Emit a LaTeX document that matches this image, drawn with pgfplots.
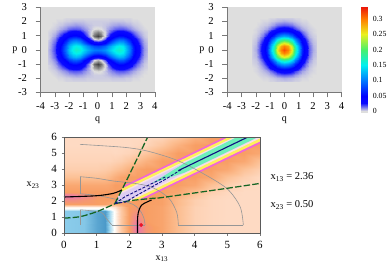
\documentclass[border=0pt]{standalone}
\usepackage{fontspec}
\setmainfont{Liberation Serif}
\usepackage{pgfplots}
\pgfplotsset{compat=1.18}
\definecolor{axg}{RGB}{120,120,120}
\definecolor{gline}{RGB}{150,150,150}
\definecolor{dgreen}{RGB}{20,100,35}
\definecolor{navy2}{RGB}{15,15,130}
\pgfplotsset{
  wigcm/.style={colormap={wig}{
    rgb255(0pt)=(55,55,55);
    rgb255(15pt)=(222,222,222);
    rgb255(40pt)=(10,10,255);
    rgb255(65pt)=(0,0,255);
    rgb255(115pt)=(0,125,255);
    rgb255(165pt)=(0,240,240);
    rgb255(215pt)=(70,240,110);
    rgb255(265pt)=(235,240,30);
    rgb255(315pt)=(255,125,0);
    rgb255(355pt)=(235,20,10)},
    point meta min=-0.015, point meta max=0.34},
  wigaxis/.style={wigcm, scale only axis, width=114.3pt, height=85pt,
    xmin=-4,xmax=4,ymin=-3,ymax=3,
    xtick={-4,...,4}, ytick={-3,...,3},
    axis x line*=bottom, axis y line*=left,
    axis line style={axg,-}, tick style={axg,thin},
    tick align=outside, major tick length=5pt,
    /pgf/number format/assume math mode=true,
    tick label style={font=\fontsize{10.6}{11}\selectfont},
    yticklabel style={xshift=-5pt},
    xticklabel style={yshift=-2pt},
    label style={font=\fontsize{10.6}{11}\selectfont},
    xlabel=q, ylabel=p,
    every axis x label/.style={at={(rel axis cs:0.5,0)},anchor=center,yshift=-28pt},
    every axis y label/.style={at={(rel axis cs:0,0.5)},anchor=center,xshift=-25.5pt},
    axis background/.style={fill={rgb,255:red,222;green,222;blue,222}}},
}
\begin{document}
\begin{tikzpicture}[x=1pt,y=1pt]
\path (0,0) rectangle (391,269);
%%% left Wigner
\begin{axis}[wigaxis, at={(40.5pt,176.7pt)}, anchor=south west]
\addplot[surf,shader=interp,mesh/cols=29,point meta=\thisrowno{0}] table[row sep=crcr,header=false,
 x expr={mod(\coordindex,29)*0.25-3.5}, y expr={floor(\coordindex/29)*0.25-2.25}] {
0\\0\\0\\0\\0\\.001\\.001\\.001\\.001\\.001\\.001\\.001\\.001\\.001\\.001\\.001\\.001\\.001\\.001\\.001\\.001\\.001\\.001\\.001\\0\\0\\0\\0\\0\\
0\\0\\0\\.001\\.001\\.002\\.002\\.003\\.003\\.003\\.003\\.002\\.002\\.002\\.002\\.002\\.002\\.002\\.003\\.003\\.003\\.003\\.002\\.002\\.001\\.001\\0\\0\\0\\
0\\0\\.001\\.002\\.003\\.005\\.006\\.007\\.008\\.007\\.006\\.004\\.003\\.002\\.002\\.002\\.003\\.004\\.006\\.007\\.008\\.007\\.006\\.005\\.003\\.002\\.001\\0\\0\\
0\\.001\\.002\\.004\\.007\\.010\\.014\\.016\\.016\\.015\\.011\\.007\\.003\\0\\-.001\\0\\.003\\.007\\.011\\.015\\.016\\.016\\.014\\.010\\.007\\.004\\.002\\.001\\0\\
.001\\.002\\.004\\.008\\.014\\.020\\.027\\.031\\.032\\.028\\.020\\.010\\.001\\-.005\\-.008\\-.005\\.001\\.010\\.020\\.028\\.032\\.031\\.027\\.020\\.014\\.008\\.004\\.002\\.001\\
.001\\.003\\.007\\.014\\.024\\.036\\.047\\.055\\.056\\.048\\.034\\.017\\.001\\-.010\\-.014\\-.010\\.001\\.017\\.034\\.048\\.056\\.055\\.047\\.036\\.024\\.014\\.007\\.003\\.001\\
.002\\.005\\.011\\.022\\.037\\.055\\.074\\.086\\.088\\.079\\.060\\.037\\.016\\.001\\-.004\\.001\\.016\\.037\\.060\\.079\\.088\\.086\\.074\\.055\\.037\\.022\\.011\\.005\\.002\\
.003\\.007\\.015\\.029\\.050\\.076\\.101\\.120\\.125\\.115\\.095\\.071\\.050\\.036\\.032\\.036\\.050\\.071\\.095\\.115\\.125\\.120\\.101\\.076\\.050\\.029\\.015\\.007\\.003\\
.003\\.008\\.018\\.035\\.061\\.092\\.123\\.146\\.154\\.147\\.129\\.108\\.091\\.081\\.077\\.081\\.091\\.108\\.129\\.147\\.154\\.146\\.123\\.092\\.061\\.035\\.018\\.008\\.003\\
.004\\.009\\.019\\.038\\.065\\.098\\.131\\.156\\.166\\.160\\.144\\.125\\.110\\.101\\.099\\.101\\.110\\.125\\.144\\.160\\.166\\.156\\.131\\.098\\.065\\.038\\.019\\.009\\.004\\
.003\\.008\\.018\\.035\\.061\\.092\\.123\\.146\\.154\\.147\\.129\\.108\\.091\\.081\\.077\\.081\\.091\\.108\\.129\\.147\\.154\\.146\\.123\\.092\\.061\\.035\\.018\\.008\\.003\\
.003\\.007\\.015\\.029\\.050\\.076\\.101\\.120\\.125\\.115\\.095\\.071\\.050\\.036\\.032\\.036\\.050\\.071\\.095\\.115\\.125\\.120\\.101\\.076\\.050\\.029\\.015\\.007\\.003\\
.002\\.005\\.011\\.022\\.037\\.055\\.074\\.086\\.088\\.079\\.060\\.037\\.016\\.001\\-.004\\.001\\.016\\.037\\.060\\.079\\.088\\.086\\.074\\.055\\.037\\.022\\.011\\.005\\.002\\
.001\\.003\\.007\\.014\\.024\\.036\\.047\\.055\\.056\\.048\\.034\\.017\\.001\\-.010\\-.014\\-.010\\.001\\.017\\.034\\.048\\.056\\.055\\.047\\.036\\.024\\.014\\.007\\.003\\.001\\
.001\\.002\\.004\\.008\\.014\\.020\\.027\\.031\\.032\\.028\\.020\\.010\\.001\\-.005\\-.008\\-.005\\.001\\.010\\.020\\.028\\.032\\.031\\.027\\.020\\.014\\.008\\.004\\.002\\.001\\
0\\.001\\.002\\.004\\.007\\.010\\.014\\.016\\.016\\.015\\.011\\.007\\.003\\0\\-.001\\0\\.003\\.007\\.011\\.015\\.016\\.016\\.014\\.010\\.007\\.004\\.002\\.001\\0\\
0\\0\\.001\\.002\\.003\\.005\\.006\\.007\\.008\\.007\\.006\\.004\\.003\\.002\\.002\\.002\\.003\\.004\\.006\\.007\\.008\\.007\\.006\\.005\\.003\\.002\\.001\\0\\0\\
0\\0\\0\\.001\\.001\\.002\\.002\\.003\\.003\\.003\\.003\\.002\\.002\\.002\\.002\\.002\\.002\\.002\\.003\\.003\\.003\\.003\\.002\\.002\\.001\\.001\\0\\0\\0\\
0\\0\\0\\0\\0\\.001\\.001\\.001\\.001\\.001\\.001\\.001\\.001\\.001\\.001\\.001\\.001\\.001\\.001\\.001\\.001\\.001\\.001\\.001\\0\\0\\0\\0\\0\\
};
\end{axis}
%%% right Wigner
\begin{axis}[wigaxis, at={(227.3pt,176.7pt)}, anchor=south west]
\addplot[surf,shader=interp,mesh/cols=19,point meta=\thisrowno{0}] table[row sep=crcr,header=false,
 x expr={mod(\coordindex,19)*0.25-2.25}, y expr={floor(\coordindex/19)*0.25-2.25}] {
0\\0\\0\\0\\0\\.001\\.001\\.002\\.002\\.002\\.002\\.002\\.001\\.001\\0\\0\\0\\0\\0\\
0\\0\\0\\.001\\.001\\.002\\.003\\.004\\.005\\.006\\.005\\.004\\.003\\.002\\.001\\.001\\0\\0\\0\\
0\\0\\.001\\.002\\.003\\.005\\.008\\.012\\.014\\.015\\.014\\.012\\.008\\.005\\.003\\.002\\.001\\0\\0\\
0\\.001\\.002\\.004\\.007\\.012\\.019\\.026\\.031\\.033\\.031\\.026\\.019\\.012\\.007\\.004\\.002\\.001\\0\\
0\\.001\\.003\\.007\\.014\\.025\\.038\\.052\\.063\\.067\\.063\\.052\\.038\\.025\\.014\\.007\\.003\\.001\\0\\
.001\\.002\\.005\\.012\\.025\\.043\\.067\\.091\\.110\\.117\\.110\\.091\\.067\\.043\\.025\\.012\\.005\\.002\\.001\\
.001\\.003\\.008\\.019\\.038\\.067\\.103\\.141\\.170\\.181\\.170\\.141\\.103\\.067\\.038\\.019\\.008\\.003\\.001\\
.002\\.004\\.012\\.026\\.052\\.091\\.141\\.193\\.233\\.248\\.233\\.193\\.141\\.091\\.052\\.026\\.012\\.004\\.002\\
.002\\.005\\.014\\.031\\.063\\.110\\.170\\.233\\.281\\.299\\.281\\.233\\.170\\.110\\.063\\.031\\.014\\.005\\.002\\
.002\\.006\\.015\\.033\\.067\\.117\\.181\\.248\\.299\\.318\\.299\\.248\\.181\\.117\\.067\\.033\\.015\\.006\\.002\\
.002\\.005\\.014\\.031\\.063\\.110\\.170\\.233\\.281\\.299\\.281\\.233\\.170\\.110\\.063\\.031\\.014\\.005\\.002\\
.002\\.004\\.012\\.026\\.052\\.091\\.141\\.193\\.233\\.248\\.233\\.193\\.141\\.091\\.052\\.026\\.012\\.004\\.002\\
.001\\.003\\.008\\.019\\.038\\.067\\.103\\.141\\.170\\.181\\.170\\.141\\.103\\.067\\.038\\.019\\.008\\.003\\.001\\
.001\\.002\\.005\\.012\\.025\\.043\\.067\\.091\\.110\\.117\\.110\\.091\\.067\\.043\\.025\\.012\\.005\\.002\\.001\\
0\\.001\\.003\\.007\\.014\\.025\\.038\\.052\\.063\\.067\\.063\\.052\\.038\\.025\\.014\\.007\\.003\\.001\\0\\
0\\.001\\.002\\.004\\.007\\.012\\.019\\.026\\.031\\.033\\.031\\.026\\.019\\.012\\.007\\.004\\.002\\.001\\0\\
0\\0\\.001\\.002\\.003\\.005\\.008\\.012\\.014\\.015\\.014\\.012\\.008\\.005\\.003\\.002\\.001\\0\\0\\
0\\0\\0\\.001\\.001\\.002\\.003\\.004\\.005\\.006\\.005\\.004\\.003\\.002\\.001\\.001\\0\\0\\0\\
0\\0\\0\\0\\0\\.001\\.001\\.002\\.002\\.002\\.002\\.002\\.001\\.001\\0\\0\\0\\0\\0\\
};
\end{axis}
%%% colour bar
\begin{axis}[wigcm, scale only axis, width=6.3pt, height=105pt,
  at={(361pt,157pt)}, anchor=south west,
  xmin=0,xmax=1,ymin=-0.003,ymax=0.339, xtick=\empty,
  ytick={0,0.05,0.1,0.15,0.2,0.25,0.3},
  yticklabels={0,0.05,0.1,0.15,0.2,0.25,0.3},
  yticklabel pos=right, axis line style={draw=none}, ytick style={draw=none},
  tick label style={font=\fontsize{7.8}{8}\selectfont},
  yticklabel style={xshift=2pt}]
\addplot[surf,shader=interp,mesh/cols=2,point meta=\thisrowno{2}] table[row sep=crcr,header=false] {
0 -0.003 0\\1 -0.003 0\\0 0 0\\1 0 0\\0 0.025 0.025\\1 0.025 0.025\\0 0.05 0.05\\1 0.05 0.05\\
0 0.1 0.1\\1 0.1 0.1\\0 0.15 0.15\\1 0.15 0.15\\0 0.2 0.2\\1 0.2 0.2\\0 0.25 0.25\\1 0.25 0.25\\
0 0.3 0.3\\1 0.3 0.3\\0 0.339 0.339\\1 0.339 0.339\\
};
\end{axis}
%%% phase diagram
\begin{axis}[scale only axis, width=196pt, height=96pt,
  at={(64pt,36pt)}, anchor=south west,
  xmin=0,xmax=6,ymin=0,ymax=6, xtick={0,...,6}, ytick={0,...,6},
  point meta min=0, point meta max=6,
  colormap={bg}{rgb255(0pt)=(65,145,195); rgb255(1pt)=(140,205,235); rgb255(2pt)=(255,255,252);
    rgb255(3pt)=(254,218,195); rgb255(4pt)=(252,190,145); rgb255(5pt)=(248,158,100); rgb255(6pt)=(232,118,180)},
  axis on top, axis line style={draw={rgb,255:red,90;green,90;blue,90},line width=0.9pt},
  tick style={axg,thin}, tick align=outside, major tick length=2.5pt,
  xtick pos=bottom, ytick pos=left,
  /pgf/number format/assume math mode=true,
  tick label style={font=\fontsize{11}{11}\selectfont},
  xticklabel style={yshift=-2pt}, yticklabel style={xshift=-1pt},
  label style={font=\fontsize{10.6}{11}\selectfont},
  xlabel={x\textsubscript{13}}, ylabel={x\textsubscript{23}},
  every axis x label/.style={at={(rel axis cs:0.5,0)},anchor=center,yshift=-25.5pt},
  every axis y label/.style={at={(rel axis cs:0,0.5)},anchor=center,xshift=-31pt}]
\addplot[surf,shader=interp,mesh/cols=18,point meta=\thisrowno{2}] table[row sep=crcr,header=false] {
0 0 1\\.25 0 .95\\.6 0 .9\\1 0 .35\\1.25 0 .15\\1.42 0 1.3\\1.55 0 2.2\\1.75 0 3.6\\2 0 5\\2.25 0 5.9\\2.5 0 5.2\\3 0 4.8\\3.5 0 4\\4 0 3.3\\4.5 0 3.1\\5 0 3\\5.5 0 3\\6 0 3\\
0 .4 1\\.25 .4 .95\\.6 .4 .9\\1 .4 .35\\1.25 .4 .15\\1.42 .4 1.3\\1.55 .4 2.2\\1.75 .4 3.6\\2 .4 5\\2.25 .4 6\\2.5 .4 5.2\\3 .4 4.8\\3.5 .4 4\\4 .4 3.3\\4.5 .4 3.1\\5 .4 3\\5.5 .4 3\\6 .4 3\\
0 .8 1\\.25 .8 .95\\.6 .8 .9\\1 .8 .35\\1.25 .8 .15\\1.42 .8 1.3\\1.55 .8 2.2\\1.75 .8 3.6\\2 .8 5\\2.25 .8 5.7\\2.5 .8 5\\3 .8 4.8\\3.5 .8 4\\4 .8 3.3\\4.5 .8 3.1\\5 .8 3\\5.5 .8 3\\6 .8 3\\
0 1.4 1\\.25 1.4 .95\\.6 1.4 .9\\1 1.4 .35\\1.25 1.4 .2\\1.42 1.4 1.3\\1.55 1.4 2.2\\1.75 1.4 3.6\\2 1.4 5\\2.25 1.4 5.3\\2.5 1.4 5\\3 1.4 4.8\\3.5 1.4 4\\4 1.4 3.3\\4.5 1.4 3.1\\5 1.4 3\\5.5 1.4 3\\6 1.4 3\\
0 1.5 1.8\\.25 1.5 1.8\\.6 1.5 1.8\\1 1.5 1.8\\1.25 1.5 1.8\\1.42 1.5 2\\1.55 1.5 2.4\\1.75 1.5 3.7\\2 1.5 5\\2.25 1.5 5.2\\2.5 1.5 5\\3 1.5 4.8\\3.5 1.5 4\\4 1.5 3.3\\4.5 1.5 3.1\\5 1.5 3\\5.5 1.5 3\\6 1.5 3\\
0 1.6 2.3\\.25 1.6 2.3\\.6 1.6 2.3\\1 1.6 2.3\\1.25 1.6 2.3\\1.42 1.6 2.4\\1.55 1.6 2.8\\1.75 1.6 3.8\\2 1.6 5\\2.25 1.6 5.1\\2.5 1.6 5\\3 1.6 4.8\\3.5 1.6 4\\4 1.6 3.3\\4.5 1.6 3.1\\5 1.6 3\\5.5 1.6 3\\6 1.6 3\\
0 1.8 5\\.25 1.8 5\\.6 1.8 5\\1 1.8 5\\1.25 1.8 4.9\\1.42 1.8 4.7\\1.55 1.8 4.4\\1.75 1.8 4.6\\2 1.8 5\\2.25 1.8 5\\2.5 1.8 5\\3 1.8 4.9\\3.5 1.8 4.1\\4 1.8 3.4\\4.5 1.8 3.1\\5 1.8 3\\5.5 1.8 3\\6 1.8 3\\
0 2.05 5.4\\.25 2.05 5.4\\.6 2.05 5.2\\1 2.05 5\\1.25 2.05 5\\1.42 2.05 5\\1.55 2.05 5\\1.75 2.05 5\\2 2.05 5\\2.25 2.05 5\\2.5 2.05 5\\3 2.05 4.9\\3.5 2.05 4.1\\4 2.05 3.4\\4.5 2.05 3.1\\5 2.05 3\\5.5 2.05 3\\6 2.05 3\\
0 2.3 6\\.25 2.3 6\\.6 2.3 5.6\\1 2.3 5.1\\1.25 2.3 5\\1.42 2.3 5\\1.55 2.3 5\\1.75 2.3 5\\2 2.3 5\\2.25 2.3 5\\2.5 2.3 5\\3 2.3 5\\3.5 2.3 4.4\\4 2.3 3.7\\4.5 2.3 3.2\\5 2.3 3.05\\5.5 2.3 3\\6 2.3 3\\
0 2.55 5\\.25 2.55 5\\.6 2.55 5\\1 2.55 5\\1.25 2.55 5\\1.42 2.55 5\\1.55 2.55 5\\1.75 2.55 5\\2 2.55 5\\2.25 2.55 5\\2.5 2.55 5\\3 2.55 5\\3.5 2.55 4.7\\4 2.55 4\\4.5 2.55 3.4\\5 2.55 3.1\\5.5 2.55 3\\6 2.55 3\\
0 3 4.7\\.25 3 4.7\\.6 3 4.7\\1 3 4.7\\1.25 3 4.7\\1.42 3 4.8\\1.55 3 5\\1.75 3 5\\2 3 5\\2.25 3 5\\2.5 3 5\\3 3 5\\3.5 3 5\\4 3 4.7\\4.5 3 3.9\\5 3 3.4\\5.5 3 3.05\\6 3 3\\
0 3.5 3.9\\.25 3.5 3.9\\.6 3.5 3.9\\1 3.5 3.9\\1.25 3.5 4\\1.42 3.5 4.2\\1.55 3.5 4.5\\1.75 3.5 4.8\\2 3.5 5\\2.25 3.5 5\\2.5 3.5 5\\3 3.5 5\\3.5 3.5 5\\4 3.5 5\\4.5 3.5 4.7\\5 3.5 3.9\\5.5 3.5 3.4\\6 3.5 3.05\\
0 4 3.4\\.25 4 3.4\\.6 4 3.4\\1 4 3.4\\1.25 4 3.5\\1.42 4 3.6\\1.55 4 3.8\\1.75 4 4\\2 4 4.4\\2.25 4 4.8\\2.5 4 5\\3 4 5\\3.5 4 5\\4 4 5\\4.5 4 5\\5 4 4.7\\5.5 4 3.9\\6 4 3.4\\
0 4.5 3.2\\.25 4.5 3.2\\.6 4.5 3.2\\1 4.5 3.2\\1.25 4.5 3.2\\1.42 4.5 3.2\\1.55 4.5 3.3\\1.75 4.5 3.4\\2 4.5 3.7\\2.25 4.5 4\\2.5 4.5 4.4\\3 4.5 5\\3.5 4.5 5\\4 4.5 5\\4.5 4.5 5\\5 4.5 5\\5.5 4.5 4.7\\6 4.5 3.9\\
0 5 3.1\\.25 5 3.1\\.6 5 3.1\\1 5 3.1\\1.25 5 3.1\\1.42 5 3.1\\1.55 5 3.05\\1.75 5 3.1\\2 5 3.2\\2.25 5 3.4\\2.5 5 3.7\\3 5 4.4\\3.5 5 5\\4 5 5\\4.5 5 5\\5 5 5\\5.5 5 5\\6 5 4.7\\
0 5.5 3\\.25 5.5 3\\.6 5.5 3\\1 5.5 3\\1.25 5.5 3\\1.42 5.5 3\\1.55 5.5 3\\1.75 5.5 3\\2 5.5 3\\2.25 5.5 3.1\\2.5 5.5 3.2\\3 5.5 3.7\\3.5 5.5 4.4\\4 5.5 5\\4.5 5.5 5\\5 5.5 5\\5.5 5.5 5\\6 5.5 5\\
0 6 3\\.25 6 3\\.6 6 3\\1 6 3\\1.25 6 3\\1.42 6 3\\1.55 6 3\\1.75 6 3\\2 6 3\\2.25 6 3\\2.5 6 3\\3 6 3.2\\3.5 6 3.7\\4 6 4.4\\4.5 6 5\\5 6 5\\5.5 6 5\\6 6 5\\
};
% diagonal stripes, nested
\addplot[fill={rgb,255:red,240;green,100;blue,220},draw=none] coordinates {(1.56,1.85)(1.84,2.96)(7,8.05)(7,6.56)(2.44,2.12)} --cycle;
\addplot[fill={rgb,255:red,255;green,240;blue,90},draw=none] coordinates {(1.56,1.85)(1.79,2.79)(7,7.93)(7,6.70)(2.27,2.07)} --cycle;
\addplot[fill={rgb,255:red,248;green,222;blue,232},draw=none] coordinates {(1.56,1.85)(1.73,2.55)(7,7.76)(7,6.90)(2.05,2.03)} --cycle;
\addplot[fill={rgb,255:red,222;green,205;blue,242},draw=none] coordinates {(1.56,1.85)(1.69,2.39)(7,7.7)(7,7.02)(1.87,1.97)} --cycle;
\addplot[fill={rgb,255:red,110;green,240;blue,185},draw=none] coordinates {(2.7,3.12)(3.7,4.38)(7,7.72)(7,7.05)(3.7,3.78)} --cycle;
% grey boundary
\addplot[gline,line width=0.6pt,smooth] coordinates {(.49,5.54)(1.2,5.45)(1.87,5.35)(2.38,5.2)(2.88,4.94)(3.49,4.52)(4.16,3.83)(4.98,2.79)(5.39,1.65)(5.49,.5)};
\addplot[gline,line width=0.6pt] coordinates {(5.49,.5)(3.5,.5)};
\addplot[gline,line width=0.6pt,smooth] coordinates {(3.5,.5)(3.45,1.3)(3.2,2.2)(2.7,2.85)(2.17,3.1)(1.51,3.25)(1,3.42)(.49,3.52)};
\addplot[gline,line width=0.6pt] coordinates {(.49,3.52)(.49,2.45)};
\addplot[gline,line width=0.6pt,smooth] coordinates {(.49,2.45)(1,2.35)(1.6,2.1)(2.1,1.8)(2.33,1.4)(2.45,.9)(2.48,.5)};
\addplot[gline,line width=0.6pt] coordinates {(2.48,.5)(1.46,.5)};
\addplot[gline,line width=0.6pt,smooth] coordinates {(1.46,.5)(1.3,.9)(1.12,1.3)(.49,1.45)};
\addplot[gline,line width=0.6pt] coordinates {(.49,1.45)(.49,.5)};
% green dashed
\addplot[dgreen,line width=1.25pt,dash pattern=on 6.5pt off 2.2pt,smooth] coordinates {(0,.93)(.49,1.02)(1,1.33)(1.56,1.83)};
\addplot[dgreen,line width=1.25pt,dash pattern=on 6.5pt off 2.2pt,smooth] coordinates {(1.56,1.85)(1.92,3.31)(2.55,5.95)(2.6,6.2)};
\addplot[dgreen,line width=1.25pt,dash pattern=on 6.5pt off 2.2pt,smooth] coordinates {(1.56,1.83)(2.02,2.02)(2.73,2.17)(2.94,2.2)(4.98,2.79)(6,3.1)};
% black
\addplot[black,line width=1.1pt,smooth] coordinates {(0,2.25)(1,2.33)(1.51,2.48)(1.77,2.69)};
\addplot[black,line width=1.1pt,smooth] coordinates {(2.25,0)(2.25,.7)(2.27,1.23)(2.38,1.75)(2.68,2.06)};
% navy
\addplot[navy2,line width=0.9pt,dash pattern=on 3pt off 1.5pt] coordinates {(1.56,1.85)(1.87,2.27)(2.4,2.8)(3.1,3.5)};
\addplot[navy2,line width=0.9pt,dash pattern=on 3pt off 1.5pt] coordinates {(1.56,1.85)(1.87,1.93)(2.4,2.55)(3.1,3.35)(3.6,3.98)};
\addplot[navy2,line width=1.1pt] coordinates {(3.5,3.9)(5.63,6)};
% point
\addplot[only marks,mark=*,mark size=1.8pt,mark options={draw={rgb,255:red,235;green,20;blue,40},fill={rgb,255:red,235;green,20;blue,40}}] coordinates {(2.36,.5)};
\end{axis}
\node[anchor=west,font=\fontsize{10.5}{11}\selectfont,inner sep=0] at (270.5,92) {x\textsubscript{13} = 2.36};
\node[anchor=west,font=\fontsize{10.5}{11}\selectfont,inner sep=0] at (270.5,64) {x\textsubscript{23} = 0.50};
\end{tikzpicture}
\end{document}
